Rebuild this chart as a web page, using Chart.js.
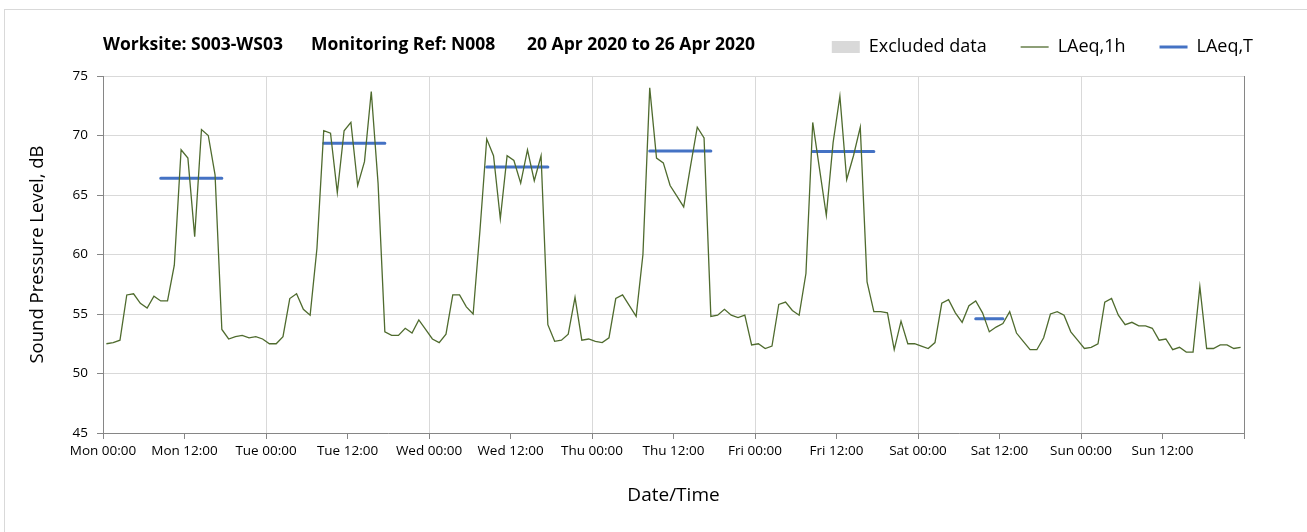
<!DOCTYPE html>
<html>
<head>
<meta charset="utf-8">
<script src="https://cdn.jsdelivr.net/npm/chart.js@4.4.1/dist/chart.umd.min.js"></script>
<style>
  html, body { margin: 0; padding: 0; background: #fff; }
  #wrap { width: 1307px; height: 532px; position: relative; }
</style>
</head>
<body>
<div id="wrap"><canvas id="noiseChart"></canvas></div>
<script>
// hourly LAeq,1h values, Mon 00:00 .. Sun 23:00
const laeq1h = [
    52.5, 52.6, 52.8, 56.6, 56.7, 55.9, 55.5, 56.5, 56.1, 56.1, 59.1, 68.8, 68.1, 61.5, 70.5, 70.0, 66.7, 53.7, 52.9, 53.1, 53.2, 53.0, 53.1, 52.9,
    52.5, 52.5, 53.1, 56.3, 56.7, 55.4, 54.9, 60.5, 70.4, 70.2, 65.2, 70.4, 71.1, 65.8, 67.8, 73.7, 66.0, 53.5, 53.2, 53.2, 53.8, 53.4, 54.5, 53.7,
    52.9, 52.6, 53.3, 56.6, 56.6, 55.6, 55.0, 62.0, 69.7, 68.3, 63.0, 68.3, 67.9, 66.0, 68.8, 66.2, 68.3, 54.1, 52.7, 52.8, 53.3, 56.4, 52.8, 52.9,
    52.7, 52.6, 53.0, 56.3, 56.6, 55.7, 54.8, 60.0, 74.0, 68.1, 67.7, 65.8, 64.9, 64.0, 67.4, 70.7, 69.8, 54.8, 54.9, 55.4, 54.9, 54.7, 54.9, 52.4,
    52.5, 52.1, 52.3, 55.8, 56.0, 55.3, 54.9, 58.4, 71.1, 67.2, 63.3, 69.4, 73.3, 66.3, 68.3, 70.7, 57.7, 55.2, 55.2, 55.1, 52.0, 54.4, 52.5, 52.5,
    52.3, 52.1, 52.6, 55.9, 56.2, 55.1, 54.3, 55.7, 56.1, 55.1, 53.5, 53.9, 54.2, 55.2, 53.4, 52.7, 52.0, 52.0, 53.0, 55.0, 55.2, 54.9, 53.5, 52.8,
    52.1, 52.2, 52.5, 56.0, 56.3, 54.9, 54.1, 54.3, 54.0, 54.0, 53.8, 52.8, 52.9, 52.0, 52.2, 51.8, 51.8, 57.3, 52.1, 52.1, 52.4, 52.4, 52.1, 52.2
];

// LAeq,T assessment periods (hours from Mon 00:00)
const periodStart = [8.5, 32.5, 56.5, 80.5, 104.5, 128.5];
const periodEnd = [17.5, 41.5, 65.5, 89.5, 113.5, 132.5];
const laeqT = [66.4, 69.35, 67.35, 68.7, 68.65, 54.6];

const dayNames = ['Mon', 'Tue', 'Wed', 'Thu', 'Fri', 'Sat', 'Sun'];
const yTicks = [45, 50, 55, 60, 65, 70, 75];
const titleParts = ['Worksite: S003-WS03', 'Monitoring Ref: N008', '20 Apr 2020 to 26 Apr 2020'];

const FONT = "'Open Sans', sans-serif";

const hourlyPoints = laeq1h.map((v, i) => ({ x: i + 0.5, y: v }));
const periodPoints = [];
laeqT.forEach((v, i) => {
    periodPoints.push({ x: periodStart[i], y: v });
    periodPoints.push({ x: periodEnd[i], y: v });
    periodPoints.push({ x: periodEnd[i] + 0.25, y: null });
});

// white background, outer frame, header text; legend nudged into the header row
const chrome = {
    id: 'chrome',
    afterLayout(chart) {
        const lg = chart.legend;
        lg.top -= 10; lg.bottom -= 10;
        lg.left += 43; lg.right += 43;
    },
    beforeDraw(chart) {
        const ctx = chart.ctx;
        ctx.save();
        ctx.fillStyle = '#fff';
        ctx.fillRect(0, 0, chart.width, chart.height);
        ctx.strokeStyle = '#d9d9d9';
        ctx.lineWidth = 1;
        ctx.strokeRect(4.5, 9.5, chart.width + 20, chart.height + 20);
        ctx.restore();
    },
    afterDraw(chart) {
        const ctx = chart.ctx;
        const xs = [103, 311, 527];
        ctx.save();
        ctx.fillStyle = '#000';
        ctx.font = "bold 17.5px " + FONT;
        ctx.textBaseline = 'middle';
        titleParts.forEach((t, i) => ctx.fillText(t, xs[i], 45));
        ctx.restore();
    }
};

new Chart(document.getElementById('noiseChart'), {
    type: 'line',
    data: {
        datasets: [{
            label: 'Excluded data',
            data: [],
            backgroundColor: '#d9d9d9',
            borderColor: '#d9d9d9'
        }, {
            label: 'LAeq,1h',
            data: hourlyPoints,
            borderColor: '#4f6b2e',
            borderWidth: 1.3,
            pointRadius: 0,
            tension: 0
        }, {
            label: 'LAeq,T',
            data: periodPoints,
            borderColor: '#4472c4',
            borderWidth: 3,
            borderCapStyle: 'round',
            pointRadius: 0,
            spanGaps: false
        }]
    },
    options: {
        responsive: true,
        maintainAspectRatio: false,
        animation: false,
        layout: { padding: { top: 14, right: 63, left: 0, bottom: 0 } },
        plugins: {
            tooltip: { enabled: false },
            legend: {
                position: 'top',
                align: 'end',
                labels: {
                    usePointStyle: true,
                    pointStyleWidth: 28,
                    boxHeight: 12,
                    padding: 34,
                    color: '#000',
                    font: { family: FONT, size: 18 },
                    generateLabels(chart) {
                        return chart.data.datasets.map((ds, i) => ({
                            text: ds.label,
                            datasetIndex: i,
                            fillStyle: i === 0 ? '#d9d9d9' : 'transparent',
                            strokeStyle: i === 0 ? '#d9d9d9' : ds.borderColor,
                            lineWidth: i === 0 ? 0 : (i === 1 ? 1.3 : 3),
                            pointStyle: i === 0 ? 'rect' : 'line',
                            fontColor: '#000'
                        }));
                    }
                }
            }
        },
        scales: {
            x: {
                type: 'linear',
                min: 0,
                max: 168,
                afterFit(scale) { scale.height = 99; },
                afterBuildTicks(scale) {
                    scale.ticks = [];
                    for (let h = 0; h <= 168; h += 12) scale.ticks.push({ value: h });
                },
                ticks: {
                    autoSkip: false,
                    maxRotation: 0,
                    padding: 4,
                    color: '#000',
                    font: { family: FONT, size: 13.5 },
                    callback(v) {
                        if (v >= 168) return '';
                        return dayNames[Math.floor(v / 24)] + ' ' + (v % 24 === 0 ? '00:00' : '12:00');
                    }
                },
                grid: {
                    color(ctx) {
                        const v = ctx.tick ? ctx.tick.value : 0;
                        if (v === 168) return '#868686';
                        return v % 24 === 0 ? '#d9d9d9' : 'rgba(0,0,0,0)';
                    },
                    tickColor: '#868686',
                    tickLength: 6
                },
                border: { color: '#868686' },
                title: {
                    display: true,
                    text: 'Date/Time',
                    color: '#000',
                    font: { family: FONT, size: 19 },
                    padding: { top: 24, bottom: 25 }
                }
            },
            y: {
                min: 45,
                max: 75,
                afterFit(scale) { scale.width = 103; },
                afterBuildTicks(scale) {
                    scale.ticks = yTicks.map(v => ({ value: v }));
                },
                ticks: {
                    padding: 9,
                    color: '#000',
                    font: { family: FONT, size: 13.5 }
                },
                grid: {
                    color: '#d9d9d9',
                    tickColor: '#868686',
                    tickLength: 6
                },
                border: { color: '#868686' },
                title: {
                    display: true,
                    text: 'Sound Pressure Level, dB',
                    color: '#000',
                    font: { family: FONT, size: 18.5 },
                    padding: { top: 27, bottom: 0 }
                }
            }
        }
    },
    plugins: [chrome]
});
</script>
</body>
</html>
